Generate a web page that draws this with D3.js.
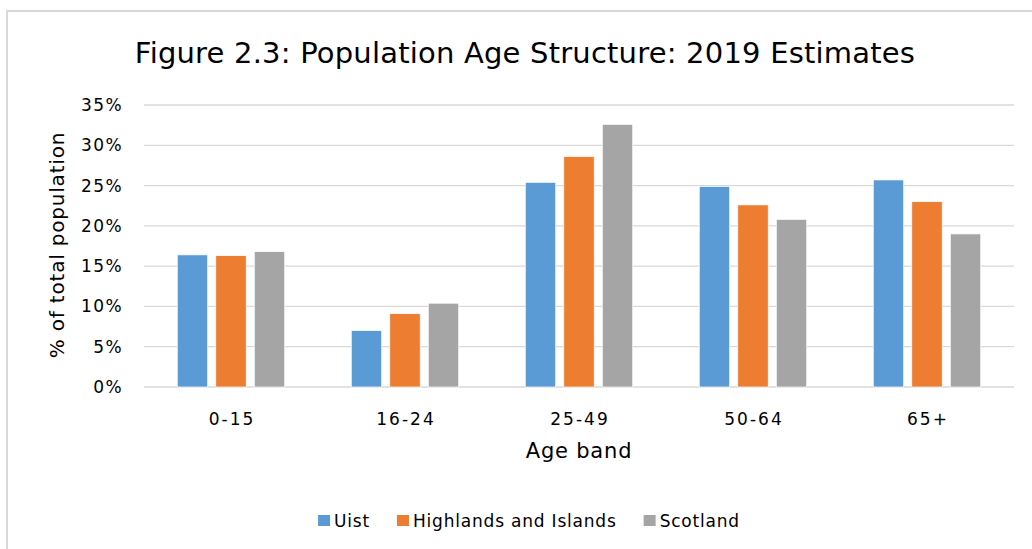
<!DOCTYPE html>
<html>
<head>
<meta charset="utf-8">
<script src="https://cdn.jsdelivr.net/npm/d3@7"></script>
<style>
  html, body { margin: 0; padding: 0; background: #fff; }
  svg { display: block; }
  text { font-family: "Century Gothic", "DejaVu Sans", sans-serif; fill: #000; }
</style>
</head>
<body>
<svg id="chart" width="1032" height="549"></svg>
<script>
const categories = ["0-15", "16-24", "25-49", "50-64", "65+"];
const seriesNames = ["Uist", "Highlands and Islands", "Scotland"];
const uist = [16.4, 7.0, 25.4, 24.9, 25.7];
const highlands = [16.3, 9.1, 28.6, 22.6, 23.0];
const scotland = [16.8, 10.4, 32.6, 20.8, 19.0];
const yTicks = [0, 5, 10, 15, 20, 25, 30, 35];
const colors = ["#5B9BD5", "#ED7D31", "#A5A5A5"];

const title = "Figure 2.3: Population Age Structure: 2019 Estimates";
const yLabel = "% of total population";
const xLabel = "Age band";

const seriesValues = [uist, highlands, scotland];

const svg = d3.select("#chart");

// chart border (top and left visible)
svg.append("path")
  .attr("d", "M7,1000 L7,11 L1040,11")
  .attr("fill", "none")
  .attr("stroke", "#d9d9d9")
  .attr("stroke-width", 2);

const plot = { left: 144, right: 1014, top: 105, bottom: 387 };

const x0 = d3.scaleBand()
  .domain(categories)
  .range([plot.left, plot.right])
  .paddingInner(0.336)
  .paddingOuter(0.168);

const x1 = d3.scaleBand()
  .domain(seriesNames)
  .range([0, x0.bandwidth()])
  .paddingInner(0.21)
  .paddingOuter(0.105);

const y = d3.scaleLinear()
  .domain([0, 35])
  .range([plot.bottom, plot.top]);

// gridlines
svg.append("g")
  .selectAll("line")
  .data(yTicks)
  .join("line")
  .attr("x1", plot.left)
  .attr("x2", plot.right)
  .attr("y1", d => y(d))
  .attr("y2", d => y(d))
  .attr("stroke", "#d9d9d9")
  .attr("stroke-width", 1.3);

// y axis tick labels
svg.append("g")
  .selectAll("text")
  .data(yTicks)
  .join("text")
  .attr("x", 123)
  .attr("y", d => y(d))
  .attr("dy", "0.35em")
  .attr("text-anchor", "end")
  .attr("font-size", 17)
  .attr("letter-spacing", 1.4)
  .text(d => d + "%");

// bars
const groups = svg.append("g")
  .selectAll("g")
  .data(categories)
  .join("g")
  .attr("transform", d => `translate(${x0(d)},0)`);

groups.selectAll("rect")
  .data((d, i) => seriesNames.map((s, j) => ({ s, v: seriesValues[j][i], c: colors[j] })))
  .join("rect")
  .attr("x", d => x1(d.s))
  .attr("width", x1.bandwidth())
  .attr("y", d => y(d.v))
  .attr("height", d => y(0) - y(d.v))
  .attr("fill", d => d.c)
  .attr("stroke", "#fff")
  .attr("stroke-width", 0.7);

// x tick labels
svg.append("g")
  .selectAll("text")
  .data(categories)
  .join("text")
  .attr("x", d => x0(d) + x0.bandwidth() / 2 + 1)
  .attr("y", 425)
  .attr("text-anchor", "middle")
  .attr("font-size", 17)
  .attr("letter-spacing", 2)
  .text(d => d);

// x axis title
svg.append("text")
  .attr("x", 579)
  .attr("y", 458)
  .attr("text-anchor", "middle")
  .attr("font-size", 21)
  .attr("letter-spacing", 0.8)
  .text(xLabel);

// y axis title
svg.append("text")
  .attr("transform", "translate(64,245) rotate(-90)")
  .attr("text-anchor", "middle")
  .attr("font-size", 20)
  .attr("letter-spacing", 0.8)
  .text(yLabel);

// chart title
svg.append("text")
  .attr("x", 525)
  .attr("y", 63)
  .attr("text-anchor", "middle")
  .attr("font-size", 29)
  .attr("letter-spacing", 0.2)
  .text(title);

// legend
const legend = svg.append("g");
const items = legend.selectAll("g")
  .data(seriesNames)
  .join("g");
items.append("rect")
  .attr("width", 12)
  .attr("height", 11)
  .attr("y", 515)
  .attr("fill", (d, i) => colors[i]);
items.append("text")
  .attr("x", 16)
  .attr("y", 527)
  .attr("font-size", 17)
  .attr("letter-spacing", 0.8)
  .text(d => d);

let cx = 0;
const gap = 27;
const offsets = [];
items.each(function () {
  const w = this.getBBox().width;
  offsets.push(cx);
  cx += w + gap;
});
const totalW = cx - gap;
const startX = 529 - totalW / 2;
items.attr("transform", (d, i) => `translate(${startX + offsets[i]},0)`);
</script>
</body>
</html>
